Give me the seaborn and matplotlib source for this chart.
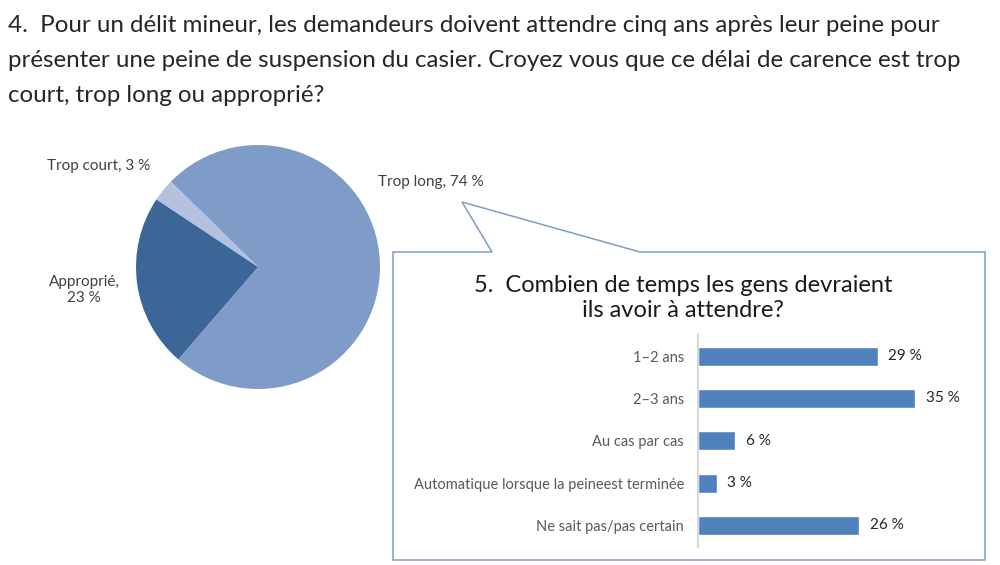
import matplotlib.pyplot as plt
import pandas as pd
import seaborn as sns
from matplotlib.patches import Polygon

# Question 4: pie
pie_labels = ["Trop long", "Trop court", "Approprié"]
pie_values = [74, 3, 23]
pie_colors = ["#7F9CC8", "#B3C1DF", "#3C6698"]

# Question 5: bars
bar_labels = [
    "1–2 ans",
    "2–3 ans",
    "Au cas par cas",
    "Automatique lorsque la peineest terminée",
    "Ne sait pas/pas certain",
]
bar_values = [29, 35, 6, 3, 26]

title_main = [
    "4.  Pour un délit mineur, les demandeurs doivent attendre cinq ans après leur peine pour",
    "présenter une peine de suspension du casier. Croyez vous que ce délai de carence est trop",
    "court, trop long ou approprié?",
]
title_inner = ["5.  Combien de temps les gens devraient", "ils avoir à attendre?"]

W, H = 1000, 565


def px(x, y):
    return (x / W, 1 - y / H)


sns.set_theme(style="white")
plt.rcParams["font.family"] = ["Lato", "DejaVu Sans"]

fig = plt.figure(figsize=(W / 100, H / 100), dpi=100)
fig.patch.set_facecolor("white")

# Title, one line at a time to control spacing
for k, line in enumerate(title_main):
    fig.text(*px(8, 32 + 35 * k), line, ha="left", va="baseline", fontsize=17.4,
             color="#262626")

# Pie chart
ax_pie = fig.add_axes([136 / W, (H - 267 - 122) / H, 244 / W, 244 / H])
ax_pie.pie(pie_values, colors=pie_colors, startangle=229.2, counterclock=True,
           radius=1, wedgeprops={"linewidth": 0})
ax_pie.set_xlim(-1, 1)
ax_pie.set_ylim(-1, 1)
ax_pie.set_aspect("equal")
ax_pie.axis("off")

lab_color = "#404040"
fig.text(*px(47, 166), f"{pie_labels[1]}, {pie_values[1]} %", ha="left", va="center",
         fontsize=11, color=lab_color)
fig.text(*px(378, 182), f"{pie_labels[0]}, {pie_values[0]} %", ha="left", va="center",
         fontsize=11, color=lab_color)
fig.text(*px(84, 290), f"{pie_labels[2]},\n{pie_values[2]} %", ha="center", va="center",
         fontsize=11, color=lab_color, linespacing=1.25)

# Callout box
callout = Polygon(
    [px(393, 252), px(492, 252), px(462, 202), px(640, 252),
     px(985, 252), px(985, 560), px(393, 560)],
    closed=True, transform=fig.transFigure, facecolor="white",
    edgecolor="#7F9CC8", linewidth=1.1, zorder=-1,
)
fig.patches.append(callout)

for k, line in enumerate(title_inner):
    fig.text(*px(683, 292 + 25 * k), line, ha="center", va="baseline", fontsize=17,
             color="#1a1a1a")

# Bar chart
df = pd.DataFrame({"label": bar_labels, "value": bar_values})
ax_bar = fig.add_axes([698 / W, (H - 546.5) / H, 279 / W, 211.5 / H])
ax_bar.set_zorder(2)
ax_bar.patch.set_alpha(0)
sns.barplot(data=df, x="value", y="label", orient="h", color="#4F81BD",
            saturation=1, width=0.45, ax=ax_bar)
ax_bar.set_xlim(0, 45)
ax_bar.set_ylim(4.5, -0.5)
ax_bar.set_xlabel("")
ax_bar.set_ylabel("")
ax_bar.set_xticks([])
for side in ["top", "right", "bottom"]:
    ax_bar.spines[side].set_visible(False)
ax_bar.spines["left"].set_color("#D9D9D9")
ax_bar.spines["left"].set_linewidth(1.5)
ax_bar.tick_params(axis="y", length=0, pad=10, labelsize=10.5, labelcolor="#595959")
for i, v in enumerate(bar_values):
    ax_bar.text(v + 1.7, i, f"{v} %", ha="left", va="center", fontsize=11,
                color="#262626")

fig.savefig("out.png", dpi=100)
